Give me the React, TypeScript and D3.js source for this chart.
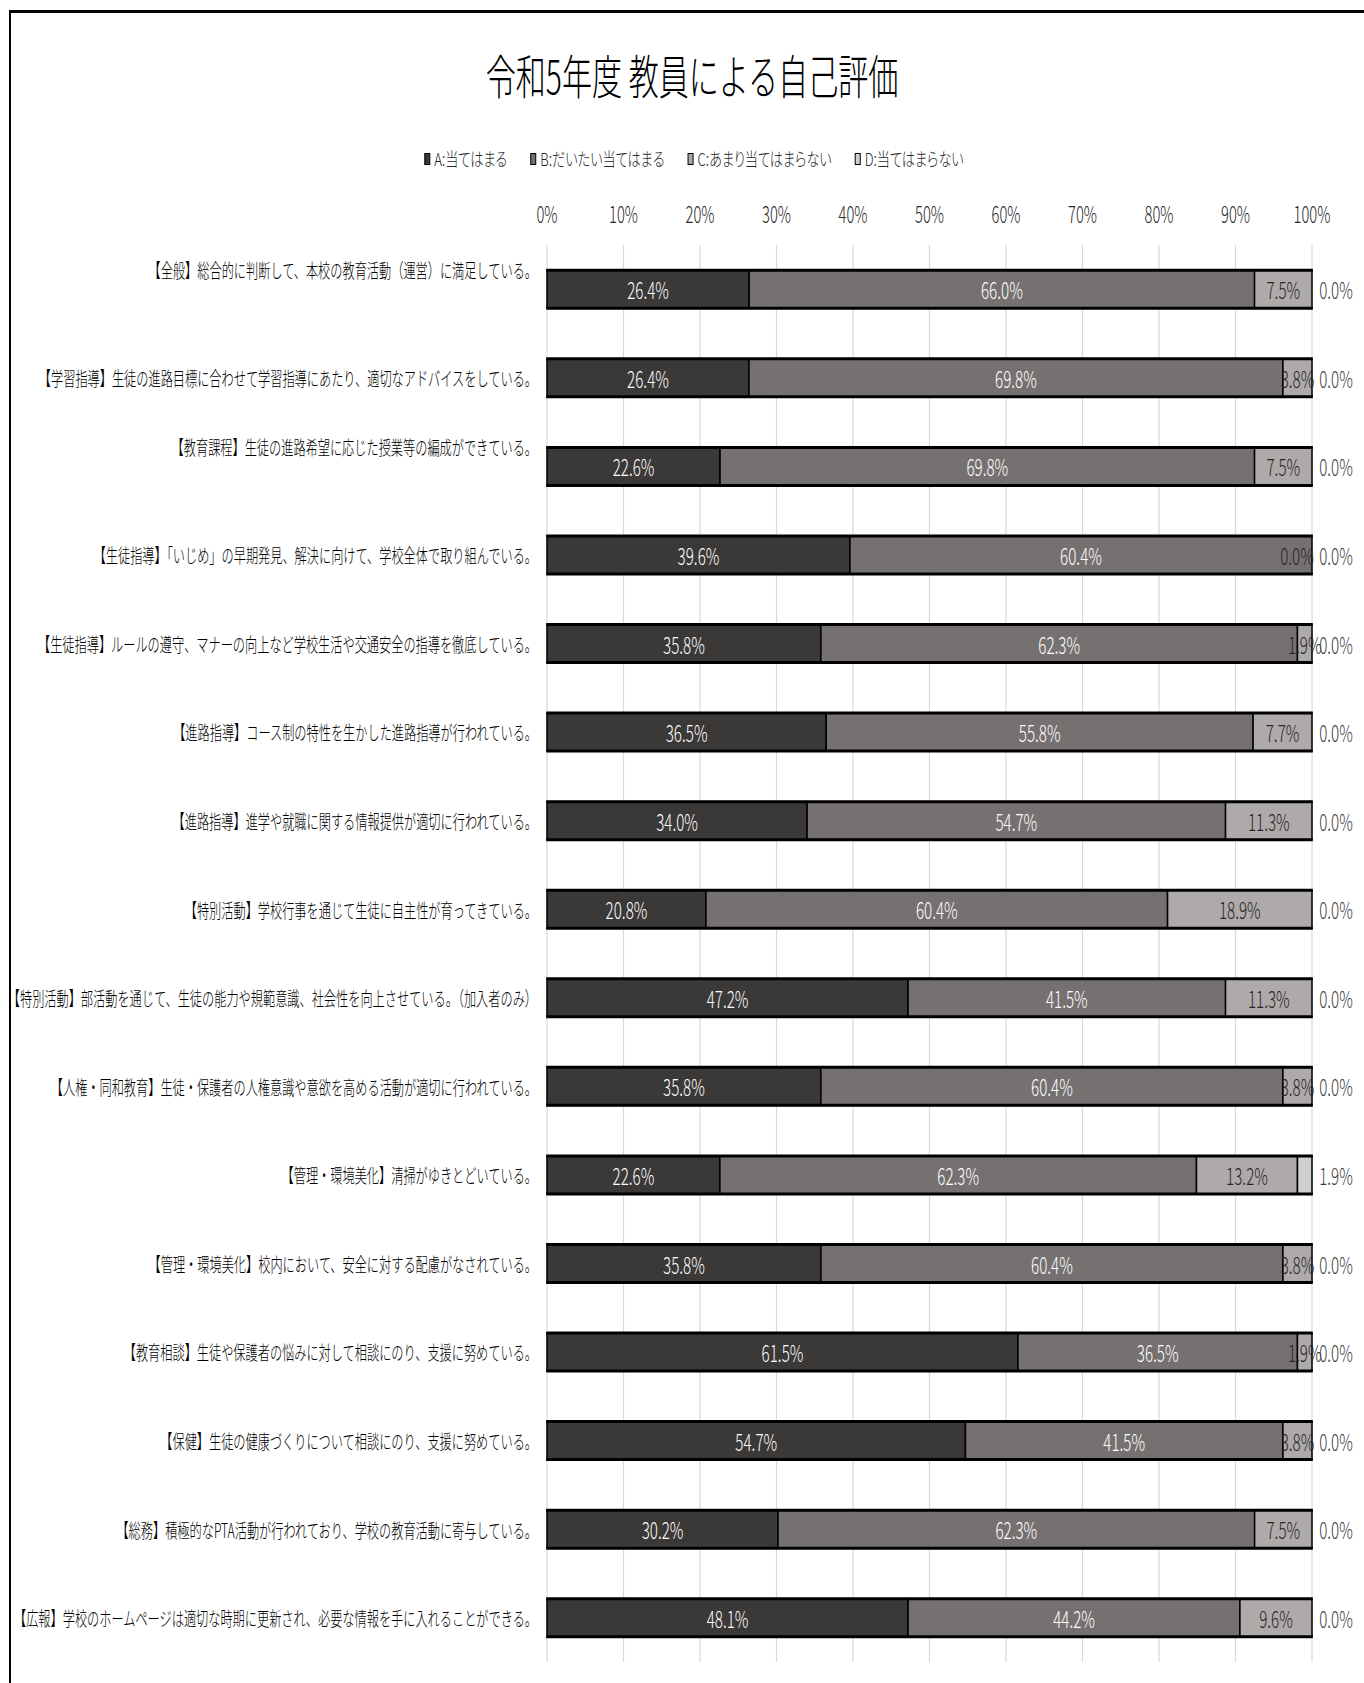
import React, { useEffect, useRef } from 'react';
import * as d3 from 'd3';

const W = 1364;
const H = 1683;

const titleText = '令和5年度 教員による自己評価';
const seriesKeys = ['A', 'B', 'C', 'D'];
const seriesNames = ['A:当てはまる', 'B:だいたい当てはまる', 'C:あまり当てはまらない', 'D:当てはまらない'];
const seriesColors = ['#3B3838', '#767171', '#AEAAAA', '#D0CECE'];

const categories = [
  '【全般】総合的に判断して、本校の教育活動（運営）に満足している。\n\n',
  '【学習指導】生徒の進路目標に合わせて学習指導にあたり、適切なアドバイスをしている。',
  '【教育課程】生徒の進路希望に応じた授業等の編成ができている。\n\n',
  '【生徒指導】「いじめ」の早期発見、解決に向けて、学校全体で取り組んでいる。',
  '【生徒指導】ルールの遵守、マナーの向上など学校生活や交通安全の指導を徹底している。',
  '【進路指導】コース制の特性を生かした進路指導が行われている。',
  '【進路指導】進学や就職に関する情報提供が適切に行われている。',
  '【特別活動】学校行事を通じて生徒に自主性が育ってきている。',
  '【特別活動】部活動を通じて、生徒の能力や規範意識、社会性を向上させている。（加入者のみ）',
  '【人権・同和教育】生徒・保護者の人権意識や意欲を高める活動が適切に行われている。',
  '【管理・環境美化】清掃がゆきとどいている。',
  '【管理・環境美化】校内において、安全に対する配慮がなされている。',
  '【教育相談】生徒や保護者の悩みに対して相談にのり、支援に努めている。',
  '【保健】生徒の健康づくりについて相談にのり、支援に努めている。',
  '【総務】積極的なPTA活動が行われており、学校の教育活動に寄与している。',
  '【広報】学校のホームページは適切な時期に更新され、必要な情報を手に入れることができる。',
];

const seriesA = [26.4, 26.4, 22.6, 39.6, 35.8, 36.5, 34.0, 20.8, 47.2, 35.8, 22.6, 35.8, 61.5, 54.7, 30.2, 48.1];
const seriesB = [66.0, 69.8, 69.8, 60.4, 62.3, 55.8, 54.7, 60.4, 41.5, 60.4, 62.3, 60.4, 36.5, 41.5, 62.3, 44.2];
const seriesC = [7.5, 3.8, 7.5, 0.0, 1.9, 7.7, 11.3, 18.9, 11.3, 3.8, 13.2, 3.8, 1.9, 3.8, 7.5, 9.6];
const seriesD = [0.0, 0.0, 0.0, 0.0, 0.0, 0.0, 0.0, 0.0, 0.0, 0.0, 1.9, 0.0, 0.0, 0.0, 0.0, 0.0];

const tickValues = [0, 10, 20, 30, 40, 50, 60, 70, 80, 90, 100];

const FONT = "'Noto Sans CJK JP', 'Noto Sans CJK SC', sans-serif";

export default function App() {
  const ref = useRef<SVGSVGElement>(null);

  useEffect(() => {
    const svg = d3.select(ref.current as SVGSVGElement);
    svg.selectAll('*').remove();
    svg.attr('font-family', FONT).attr('font-weight', 300);

    const txt = (
      parent: any,
      x: number,
      y: number,
      s: string,
      size: number,
      sx: number,
      anchor: string,
      fill: string,
      palt = false
    ) => {
      const g = parent.append('g').attr('transform', `translate(${x},${y}) scale(${sx},1)`);
      const t = g
        .append('text')
        .attr('text-anchor', anchor)
        .attr('dominant-baseline', 'central')
        .attr('font-size', size)
        .attr('fill', fill)
        .style('font-feature-settings', palt ? '"palt"' : null)
        .text(s);
      return { g, t };
    };

    // frame
    svg.append('rect').attr('width', W).attr('height', H).attr('fill', '#fff');
    svg
      .append('line')
      .attr('x1', 9).attr('x2', W).attr('y1', 11.5).attr('y2', 11.5)
      .attr('stroke', '#000').attr('stroke-width', 3);
    svg
      .append('line')
      .attr('x1', 10).attr('x2', 10).attr('y1', 10).attr('y2', H)
      .attr('stroke', '#000').attr('stroke-width', 2);

    // title
    txt(svg, 692, 73, titleText, 47, 0.64, 'middle', '#000');

    // scales
    const x = d3.scaleLinear().domain([0, 1]).range([547, 1312]);
    const xp = (v: number) => x(v / 100);
    const n = categories.length;
    const y = d3
      .scaleBand<number>()
      .domain(d3.range(n))
      .range([245, 1662])
      .paddingInner(0.571)
      .paddingOuter(0.2855);
    const bw = y.bandwidth();

    // legend
    const legend = svg.append('g');
    let lx = 0;
    const LSX = 0.73;
    seriesNames.forEach((name, i) => {
      legend
        .append('rect')
        .attr('x', lx + 0.5).attr('y', 153.5).attr('width', 5).attr('height', 11)
        .attr('fill', seriesColors[i]).attr('stroke', '#000').attr('stroke-width', 1);
      const { t } = txt(legend, lx + 10, 159, name, 18, LSX, 'start', '#262626', true);
      const w = (t.node() as SVGTextElement).getComputedTextLength() * LSX;
      lx += 10 + w + 23;
    });
    const legendW = lx - 23;
    legend.attr('transform', `translate(${694 - legendW / 2},0)`);

    // gridlines
    svg
      .append('g')
      .selectAll('line')
      .data(tickValues)
      .join('line')
      .attr('x1', (d) => xp(d)).attr('x2', (d) => xp(d))
      .attr('y1', 245).attr('y2', 1662)
      .attr('stroke', '#d9d9d9').attr('stroke-width', 1.2);

    // tick labels
    const tg = svg.append('g');
    tickValues.forEach((v) => txt(tg, xp(v), 213, `${v}%`, 23, 0.64, 'middle', '#262626'));

    // stacked data
    const rows = categories.map((c, i) => ({
      idx: i,
      A: seriesA[i],
      B: seriesB[i],
      C: seriesC[i],
      D: seriesD[i],
    }));
    const stack = d3.stack<any>().keys(seriesKeys).offset(d3.stackOffsetExpand);
    const layers = stack(rows);

    const barsG = svg.append('g');
    layers.forEach((layer, li) => {
      barsG
        .append('g')
        .selectAll('rect')
        .data(layer)
        .join('rect')
        .attr('x', (d: any) => x(d[0]))
        .attr('width', (d: any) => Math.max(0, x(d[1]) - x(d[0])))
        .attr('y', (d: any, i: number) => y(i) as number)
        .attr('height', bw)
        .attr('fill', seriesColors[li])
        .attr('stroke', '#000')
        .attr('stroke-width', 1.5);
    });
    // thick top / bottom edges
    rows.forEach((r, i) => {
      const yy = y(i) as number;
      [yy, yy + bw].forEach((ly) =>
        barsG
          .append('line')
          .attr('x1', x(0) - 0.75).attr('x2', x(1) + 0.75)
          .attr('y1', ly).attr('y2', ly)
          .attr('stroke', '#000').attr('stroke-width', 3)
      );
    });

    // data labels
    const lg = svg.append('g');
    const labelFill = ['#ffffff', '#ffffff', '#262626', '#404040'];
    layers.forEach((layer, li) => {
      layer.forEach((d: any, i: number) => {
        const v = (d.data as any)[seriesKeys[li]] as number;
        const cy = (y(i) as number) + bw / 2;
        let cx = (x(d[0]) + x(d[1])) / 2;
        if (li === 2 && v === 0) cx = x(1) - 15;
        if (li === 3) cx = x(1) + 24;
        txt(lg, cx, cy, `${v.toFixed(1)}%`, 23, 0.66, 'middle', labelFill[li]);
      });
    });

    // category labels
    const cg = svg.append('g');
    categories.forEach((c, i) => {
      const lines = c.split('\n');
      const lh = 20;
      const cy = (y(i) as number) + bw / 2 - ((lines.length - 1) * lh) / 2;
      lines.forEach((ln, k) => {
        if (ln.length) txt(cg, 537, cy + k * lh, ln, 19.5, 0.625, 'end', '#000');
      });
    });
  }, []);

  return (
    <svg
      ref={ref}
      width={W}
      height={H}
      style={{ position: 'absolute', left: 0, top: 0, display: 'block' }}
    />
  );
}
